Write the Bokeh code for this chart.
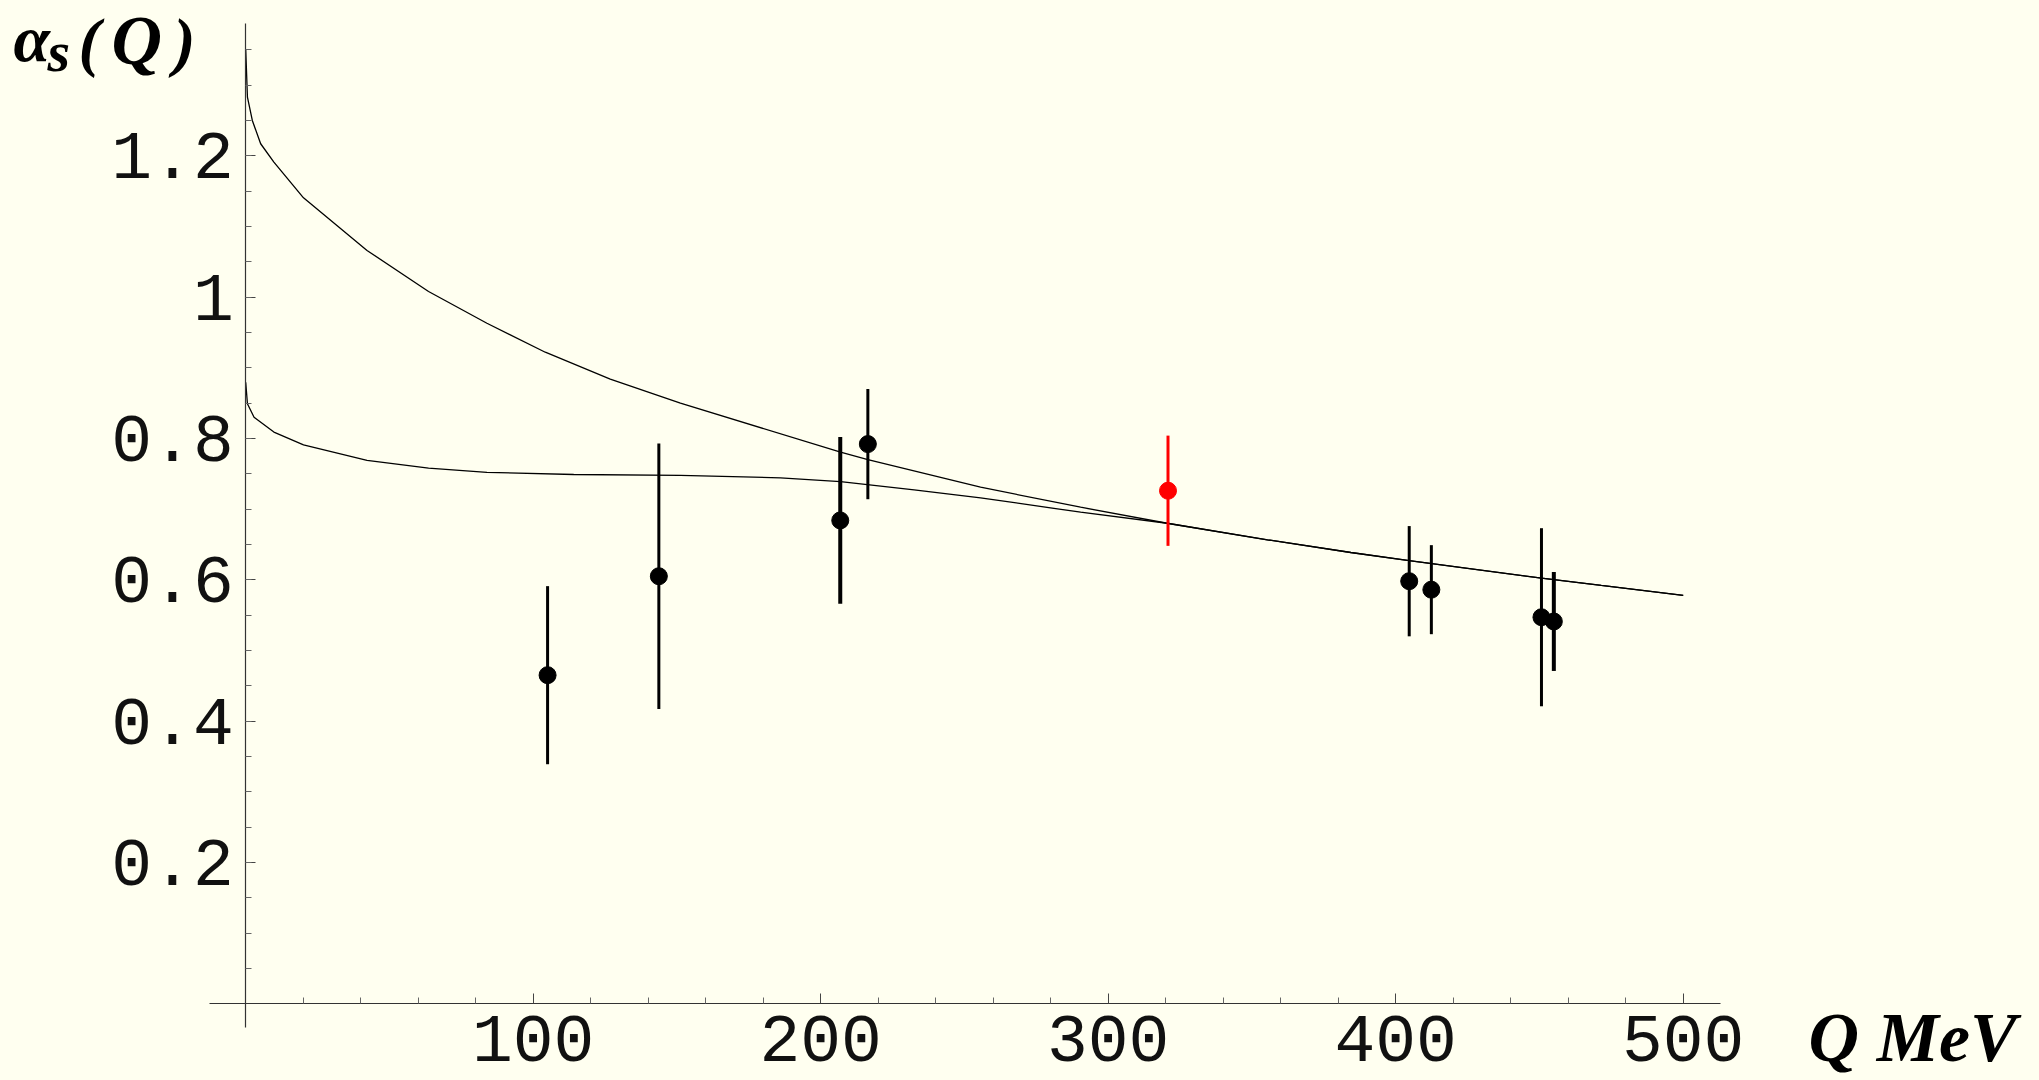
from bokeh.plotting import figure
from bokeh.models import (ColumnDataSource, FixedTicker, Range1d,
                          CustomJSTickFormatter, GlobalInlineStyleSheet)
from bokeh.core.properties import value
from bokeh.embed import file_html
from bokeh.resources import INLINE

# ---------------- data ----------------
# measured points (black)
q_pts = [105.0, 143.7, 206.8, 216.4, 404.7, 412.4, 450.7, 455.0]
alpha_pts = [0.465, 0.605, 0.684, 0.792, 0.598, 0.586, 0.547, 0.541]
alpha_err = [0.126, 0.188, 0.118, 0.078, 0.078, 0.063, 0.126, 0.070]

# highlighted point (red)
q_red = [320.8]
alpha_red = [0.726]
err_red = [0.078]

# upper theory curve
q_up = [0, 0.6, 2.3, 5.2, 9.8, 20.1, 42.2, 63.6, 83.9, 104.2, 126.8, 151.2,
        206.9, 216.4, 255.6, 290.4, 320.5, 355.4, 384.4, 404.7, 450.7, 471.5, 500]
a_up = [1.351, 1.283, 1.250, 1.217, 1.191, 1.1405, 1.066, 1.008, 0.963, 0.922,
        0.884, 0.850, 0.7806, 0.770, 0.731, 0.7027, 0.680, 0.6566, 0.6386,
        0.627, 0.6023, 0.592, 0.578]

# lower theory curve
q_lo = [0, 0.6, 2.9, 9.8, 20.1, 42.2, 63.6, 83.9, 114.1, 151.2, 186, 206.9,
        232.5, 255.6, 290.4, 320.5, 355.4, 384.4, 404.7, 450.7, 471.5, 500]
a_lo = [0.8796, 0.849, 0.830, 0.809, 0.791, 0.769, 0.758, 0.752, 0.749, 0.7476,
        0.7443, 0.739, 0.7273, 0.716, 0.6956, 0.680, 0.6566, 0.6386, 0.627,
        0.6023, 0.592, 0.578]

# ticks
x_ticks = [100, 200, 300, 400, 500]
x_tick_labels = ["100", "200", "300", "400", "500"]
x_minor = [v for v in range(20, 500, 20) if v % 100]
y_ticks = [0.2, 0.4, 0.6, 0.8, 1.0, 1.2]
y_tick_labels = ["0.2", "0.4", "0.6", "0.8", "1", "1.2"]
y_minor = [round(0.05 * i, 2) for i in range(1, 28)]

# ---------------- styling ----------------
BG = "#fffff0"
bar_widths = [3, 3, 4, 3, 3, 3, 3, 4]

p = figure(width=2039, height=1080, output_backend="svg", toolbar_location=None,
           x_range=Range1d(-85.29, 623.93), y_range=Range1d(-0.10853, 1.4197),
           min_border=0, min_border_left=0, min_border_right=0,
           min_border_top=0, min_border_bottom=0)
p.title.visible = False
p.background_fill_color = BG
p.border_fill_color = BG
p.outline_line_color = None
p.grid.visible = False
p.stylesheets = [GlobalInlineStyleSheet(css="body{background:%s;}" % BG)]

# curves
p.line(q_up, a_up, line_color="black", line_width=1.3)
p.line(q_lo, a_lo, line_color="black", line_width=1.3)

# error bars + points
src = ColumnDataSource(dict(
    q=q_pts, a=alpha_pts,
    lo=[a - e for a, e in zip(alpha_pts, alpha_err)],
    hi=[a + e for a, e in zip(alpha_pts, alpha_err)],
    w=bar_widths))
p.segment(x0="q", y0="lo", x1="q", y1="hi", source=src, line_color="black", line_width="w")
p.scatter("q", "a", source=src, size=17, fill_color="black", line_color="black")

src_r = ColumnDataSource(dict(
    q=q_red, a=alpha_red,
    lo=[a - e for a, e in zip(alpha_red, err_red)],
    hi=[a + e for a, e in zip(alpha_red, err_red)]))
p.segment(x0="q", y0="lo", x1="q", y1="hi", source=src_r, line_color="#ff0000", line_width=3)
p.scatter("q", "a", source=src_r, size=17, fill_color="#ff0000", line_color="#ff0000")

# axes through the origin
fmt_code = ("const i = tv.findIndex(t => Math.abs(t - tick) < 1e-9);"
            "return i >= 0 ? tl[i] : '';")
for ax, tks, labels, minor, bounds in (
        (p.xaxis[0], x_ticks, x_tick_labels, x_minor, (-12.7, 512.8)),
        (p.yaxis[0], y_ticks, y_tick_labels, y_minor, (-0.033, 1.387))):
    ax.fixed_location = 0
    ax.bounds = bounds
    ax.ticker = FixedTicker(ticks=tks, minor_ticks=minor)
    ax.formatter = CustomJSTickFormatter(args=dict(tv=tks, tl=labels), code=fmt_code)
    ax.axis_line_color = "#333333"
    ax.axis_line_width = 1.2
    ax.major_tick_in = 10
    ax.major_tick_out = 0
    ax.minor_tick_in = 6
    ax.minor_tick_out = 0
    ax.major_tick_line_color = "#444444"
    ax.minor_tick_line_color = "#666666"
    ax.major_label_text_font = "Liberation Mono"
    ax.major_label_text_font_size = "68px"
    ax.major_label_text_color = "#111111"

p.xaxis.major_label_standoff = 12
p.yaxis.major_label_standoff = 12

# axis titles (as text glyphs)
def title_text(x, y, s, size):
    p.text(x=[x], y=[y], text=[s], text_font=value("Liberation Serif"),
           text_font_style="bold italic", text_font_size=size,
           text_color="black", text_align="left", text_baseline="alphabetic")

title_text(-80.8, 1.3660, "α", "66px")
title_text(-68.9, 1.3480, "s", "58px")
title_text(-58.2, 1.3610, "(", "66px")
title_text(-46.7, 1.3630, "Q", "70px")
title_text(-25.1, 1.3610, ")", "66px")
title_text(543.6, -0.0470, "Q", "70px")
title_text(567.3, -0.0470, "MeV", "70px")

open("out.html", "w").write(file_html(p, INLINE))
